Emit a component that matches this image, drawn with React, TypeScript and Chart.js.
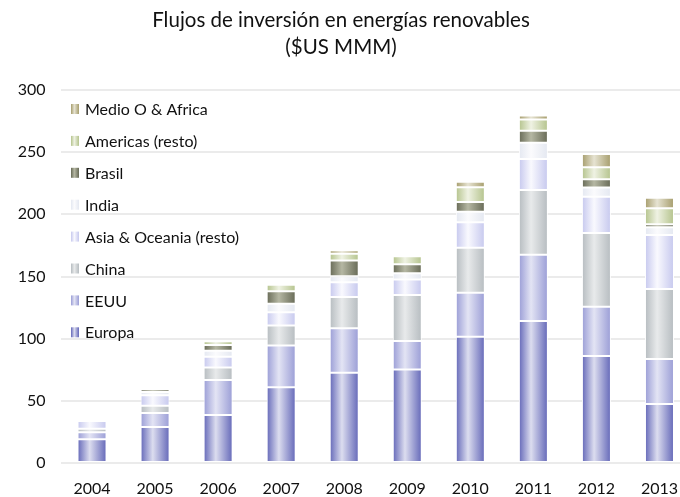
import React, { useEffect, useRef } from "react";
import { Chart, registerables } from "chart.js";

Chart.register(...registerables);

const years = ["2004", "2005", "2006", "2007", "2008", "2009", "2010", "2011", "2012", "2013"];
const europa = [19.2, 29.0, 38.6, 61.0, 72.6, 75.2, 101.6, 114.3, 86.1, 47.5];
const eeuu = [5.5, 11.2, 28.2, 33.5, 35.8, 22.9, 35.4, 53.1, 39.6, 36.1];
const china = [2.8, 5.8, 10.1, 16.1, 25.2, 37.0, 36.2, 52.2, 59.3, 56.4];
const asia = [6.2, 8.4, 8.6, 10.7, 11.7, 12.5, 20.4, 24.9, 29.2, 43.4];
const india = [1.7, 2.8, 4.8, 6.7, 4.9, 5.0, 8.5, 13.0, 7.3, 6.2];
const brasil = [0.3, 2.2, 4.6, 10.2, 12.6, 7.2, 7.8, 9.7, 6.7, 2.4];
const americas = [0.4, 1.5, 3.0, 5.1, 5.5, 6.4, 11.8, 9.1, 9.6, 12.9];
const mea = [0.3, 1.6, 1.0, 1.0, 2.8, 0.8, 4.6, 3.2, 10.7, 8.5];

const seriesNames = ["Europa", "EEUU", "China", "Asia & Oceania (resto)", "India", "Brasil", "Americas (resto)", "Medio O & Africa"];
const seriesValues = [europa, eeuu, china, asia, india, brasil, americas, mea];
const edgeColors = ["#6367b8", "#9a9dd6", "#b6bcc0", "#c6c8ee", "#e4e8f1", "#676a56", "#b4c38c", "#a69d6c"];
const centerColors = ["#dcddef", "#e3e4f4", "#e8eaeb", "#f9f9fe", "#fbfbfd", "#b5b7a3", "#eff2e3", "#e6e3d2"];
const yTicks = [0, 50, 100, 150, 200, 250, 300];
const titleLines = ["Flujos de inversión en energías renovables", "($US MMM)"];

const FONT = "Lato, 'Open Sans', sans-serif";
const BAR_PCT = 0.46;

function makeGradient(c: CanvasRenderingContext2D, x0: number, x1: number, i: number) {
  const g = c.createLinearGradient(x0, 0, x1, 0);
  g.addColorStop(0, edgeColors[i]);
  g.addColorStop(0.42, centerColors[i]);
  g.addColorStop(1, edgeColors[i]);
  return g;
}

const titlePlugin = {
  id: "customTitle",
  afterDraw(chart: any) {
    const c = chart.ctx;
    c.save();
    c.fillStyle = "#111";
    c.font = `20.5px ${FONT}`;
    c.textAlign = "center";
    c.textBaseline = "middle";
    c.fillText(titleLines[0], 341, 20);
    c.fillText(titleLines[1], 341, 47);
    c.restore();
  },
};

const legendPlugin = {
  id: "insideLegend",
  afterDraw(chart: any) {
    const c = chart.ctx;
    c.save();
    c.font = `16px ${FONT}`;
    c.textBaseline = "middle";
    c.textAlign = "left";
    const n = seriesNames.length;
    for (let k = 0; k < n; k++) {
      const i = n - 1 - k;
      const y = 109 + k * 31.9;
      const bx = 71;
      c.fillStyle = makeGradient(c, bx, bx + 8, i);
      c.fillRect(bx, y - 5, 8, 10);
      c.fillStyle = "#111";
      c.fillText(seriesNames[i], 85, y + 1);
    }
    c.restore();
  },
};

export default function App() {
  const ref = useRef<HTMLCanvasElement>(null);
  useEffect(() => {
    if (!ref.current) return;
    const datasets = seriesValues.map((vals, i) => ({
      label: seriesNames[i],
      data: vals,
      borderColor: "#ffffff",
      borderWidth: 1,
      borderSkipped: false,
      backgroundColor: (ctx: any) => {
        const chart = ctx.chart;
        const area = chart.chartArea;
        if (!area || ctx.dataIndex === undefined || !chart.scales.x) return edgeColors[i];
        const xs = chart.scales.x;
        const cx = xs.getPixelForValue(ctx.dataIndex);
        const w = (area.width / years.length) * BAR_PCT;
        return makeGradient(chart.ctx, cx - w / 2, cx + w / 2, i);
      },
    }));
    const chart = new Chart(ref.current, {
      type: "bar",
      data: { labels: years, datasets },
      options: {
        animation: false,
        responsive: false,
        devicePixelRatio: 1,
        layout: { padding: { left: 0, right: 9, top: 90, bottom: 0 } },
        plugins: { legend: { display: false }, title: { display: false }, tooltip: { enabled: false } },
        datasets: { bar: { barPercentage: BAR_PCT, categoryPercentage: 1 } },
        scales: {
          x: {
            stacked: true,
            grid: { display: false, drawTicks: false },
            border: { display: false },
            ticks: { color: "#111", font: { family: FONT, size: 16 }, padding: 16, maxRotation: 0 },
            afterFit: (s: any) => { s.height = 34; },
          },
          y: {
            stacked: true,
            min: 0,
            max: 300,
            afterBuildTicks: (s: any) => { s.ticks = yTicks.map((v) => ({ value: v })); },
            grid: { color: "#ebebeb", lineWidth: 2, drawTicks: false },
            border: { display: false },
            ticks: { color: "#111", font: { family: FONT, size: 16 }, padding: 15 },
            afterFit: (s: any) => { s.width = 60.5; },
          },
        },
      },
      plugins: [titlePlugin, legendPlugin],
    });
    return () => chart.destroy();
  }, []);
  return (
    <div style={{ position: "fixed", left: 0, top: 0, width: 700, height: 497, overflow: "hidden", background: "#fff" }}>
      <canvas ref={ref} width={700} height={497} style={{ width: 700, height: 497, display: "block" }} />
    </div>
  );
}
